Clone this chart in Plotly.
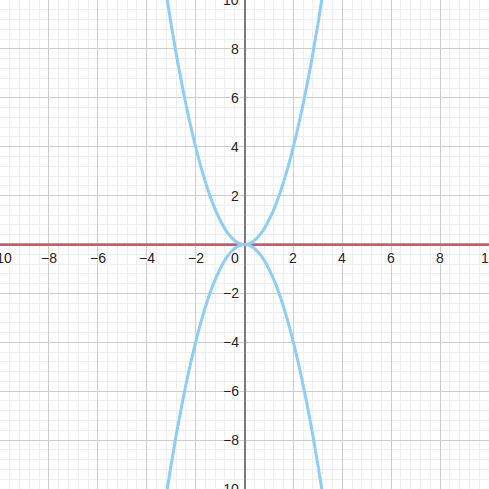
import plotly.graph_objects as go

# Curve samples (upper parabola and its mirror)
x_pts = [-3.3, -3.0, -2.75, -2.5, -2.25, -2.0, -1.75, -1.5, -1.25, -1.0, -0.75, -0.5, -0.25, 0.0,
         0.25, 0.5, 0.75, 1.0, 1.25, 1.5, 1.75, 2.0, 2.25, 2.5, 2.75, 3.0, 3.3]
y_upper = [10.89, 9.0, 7.56, 6.25, 5.06, 4.0, 3.06, 2.25, 1.56, 1.0, 0.56, 0.25, 0.06, 0.0,
           0.06, 0.25, 0.56, 1.0, 1.56, 2.25, 3.06, 4.0, 5.06, 6.25, 7.56, 9.0, 10.89]
y_lower = [-10.89, -9.0, -7.56, -6.25, -5.06, -4.0, -3.06, -2.25, -1.56, -1.0, -0.56, -0.25, -0.06, 0.0,
           -0.06, -0.25, -0.56, -1.0, -1.56, -2.25, -3.06, -4.0, -5.06, -6.25, -7.56, -9.0, -10.89]
line_x = [-10.5, 10.5]
line_y = [0, 0]

x_ticks = [-10, -8, -6, -4, -2, 2, 4, 6, 8, 10]
y_ticks = [-10, -8, -6, -4, -2, 2, 4, 6, 8, 10]
origin_label = "0"

BLUE = "#8ecdf4"
RED = "#d0586c"

fig = go.Figure()
fig.add_trace(go.Scatter(x=line_x, y=line_y, mode="lines",
                         line=dict(color=RED, width=2.5), hoverinfo="skip"))
fig.add_trace(go.Scatter(x=x_pts, y=y_upper, mode="lines", line_shape="spline",
                         line=dict(color=BLUE, width=3), hoverinfo="skip"))
fig.add_trace(go.Scatter(x=x_pts, y=y_lower, mode="lines", line_shape="spline",
                         line=dict(color=BLUE, width=3), hoverinfo="skip"))

def fmt(v):
    return ("\u2212" + str(abs(v))) if v < 0 else str(v)

shadow = "1px 1px 1px white, -1px -1px 1px white, 1px -1px 1px white, -1px 1px 1px white"
font = dict(family="Liberation Sans, Arial, sans-serif", size=14, color="#222222", shadow=shadow)

annotations = []
for v in x_ticks:
    annotations.append(dict(x=v, y=0, xref="x", yref="y", text=fmt(v), showarrow=False,
                            xanchor="center", yanchor="top", yshift=-3, font=font))
for v in y_ticks:
    annotations.append(dict(x=0, y=v, xref="x", yref="y", text=fmt(v), showarrow=False,
                            xanchor="right", yanchor="middle", xshift=-4, font=font))
annotations.append(dict(x=0, y=0, xref="x", yref="y", text=origin_label, showarrow=False,
                        xanchor="right", yanchor="top", xshift=-4, yshift=-3, font=font))

axis_common = dict(range=[-10, 10], tick0=0, dtick=2, showgrid=True, gridcolor="#cccccc",
                   gridwidth=1, showticklabels=False, ticks="", showline=False,
                   zeroline=True, zerolinecolor="#7a7a7a", zerolinewidth=1.6,
                   minor=dict(tick0=0, dtick=0.4, showgrid=True, gridcolor="#eeeeee", gridwidth=1),
                   fixedrange=True)

fig.update_layout(
    width=489, height=489,
    margin=dict(l=0, r=0, t=0, b=0),
    paper_bgcolor="white", plot_bgcolor="white",
    showlegend=False,
    xaxis=axis_common,
    yaxis=axis_common,
    annotations=annotations,
)

fig.write_html("out.html", config={"displayModeBar": False},
               post_script="document.body.style.margin='0';document.body.style.overflow='hidden';")
